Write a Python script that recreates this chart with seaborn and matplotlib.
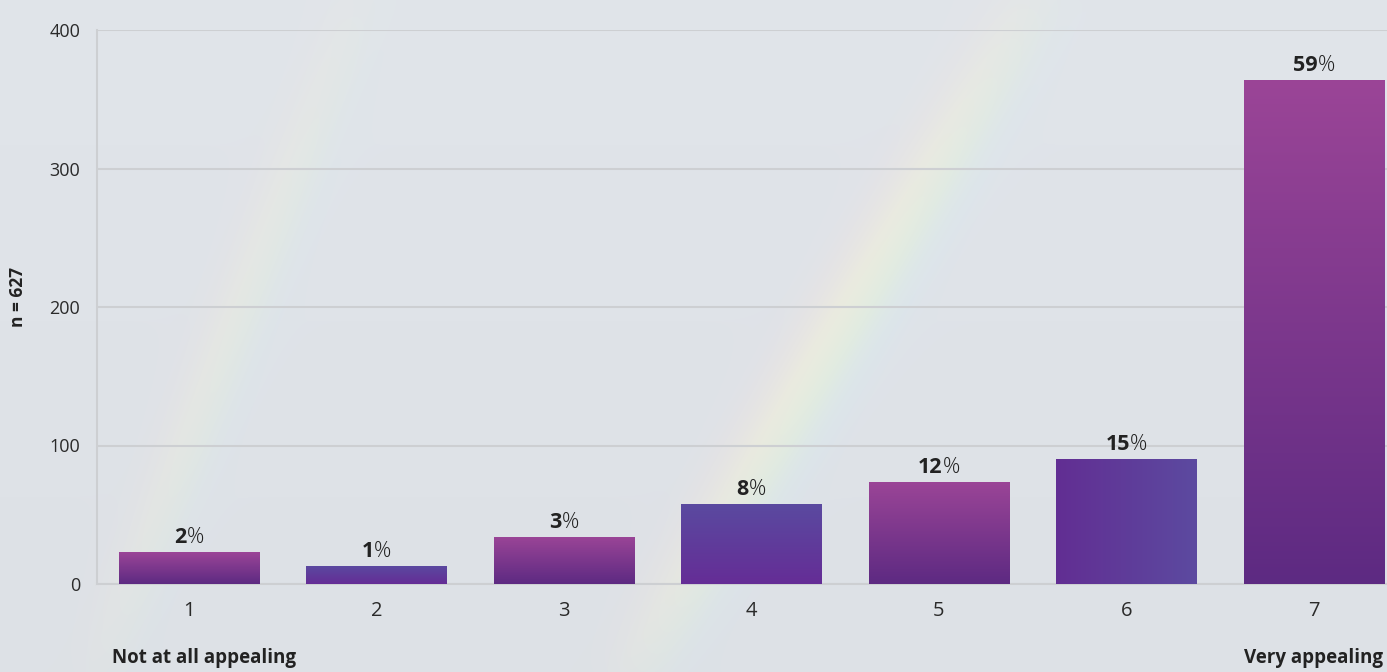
import numpy as np
import pandas as pd
import matplotlib
matplotlib.use("Agg")
import matplotlib.pyplot as plt
import seaborn as sns
from matplotlib.colors import LinearSegmentedColormap, to_rgb

categories = ["1", "2", "3", "4", "5", "6", "7"]
counts = [23, 13, 34, 58, 74, 90, 364]
percent_labels = ["2", "1", "3", "8", "12", "15", "59"]
y_ticks = [0, 100, 200, 300, 400]
left_label = "Not at all appealing"
right_label = "Very appealing"
n_label = "n = 627"

# style per bar: gradient (start colour, end colour, direction)
magenta = ("#9b4597", "#5d2a82", "v")
bluev = ("#5a4aa0", "#652d96", "v")
blueh = ("#622e93", "#5c4aa0", "h")
bar_styles = [magenta, bluev, magenta, bluev, magenta, blueh, magenta]

sns.set_theme(style="white")
plt.rcParams["font.family"] = ["Open Sans", "DejaVu Sans"]

W, H = 1387, 672
fig = plt.figure(figsize=(W / 100, H / 100), dpi=100)
bg_col = np.array(to_rgb("#dde1e6"))
fig.patch.set_facecolor("#dde1e6")

# background with faint rainbow streaks
bgax = fig.add_axes([0, 0, 1, 1], zorder=-5)
yy, xx = np.mgrid[0:H, 0:W].astype(float)
img = np.ones((H, W, 3)) * bg_col
img += (0.015 * (1 - yy / H))[..., None]
def streak(img, p0, p1, width, strength):
    p0 = np.array(p0, float); p1 = np.array(p1, float)
    d = p1 - p0; L = np.linalg.norm(d); d /= L
    nrm = np.array([d[1], -d[0]])
    rel_x = xx - p0[0]; rel_y = yy - p0[1]
    s = (rel_x * nrm[0] + rel_y * nrm[1]) / width
    t = (rel_x * d[0] + rel_y * d[1]) / L
    along = np.clip(np.sin(np.clip(t, 0, 1) * np.pi), 0, 1) ** 0.6
    env = np.exp(-(s ** 2) * 2.0) * along * strength
    cm = LinearSegmentedColormap.from_list(
        "rb", ["#dfe3f4", "#d3ecf4", "#e2f2dc", "#f4f1d8", "#f6e4dc", "#ece0ea"])
    cols = cm(np.clip((s + 1.3) / 2.6, 0, 1))[..., :3]
    return img * (1 - env[..., None]) + cols * env[..., None]
img = streak(img, (620, 700), (1050, -20), 60, 0.6)
img = streak(img, (90, 700), (370, -20), 50, 0.3)
img = np.clip(img, 0, 1)
bgax.imshow(img, aspect="auto", extent=(0, 1, 0, 1), origin="upper")
bgax.axis("off")

ax = fig.add_axes([97 / W, 1 - 584 / H, 1 - 97 / W, (584 - 30) / H])
ax.set_facecolor("none")
df = pd.DataFrame({"score": categories, "count": counts})
sns.barplot(data=df, x="score", y="count", ax=ax, width=0.75, color="#7a3590",
            saturation=1, zorder=3)

ax.set_xlim(-0.49, 6.39)
ax.set_ylim(0, 400)
ax.set_yticks(y_ticks)
ax.set_yticklabels([str(v) for v in y_ticks])
ax.grid(axis="y", color="#cdcfd2", linewidth=1.5, zorder=0)
ax.set_axisbelow(True)
for sp in ["top", "right"]:
    ax.spines[sp].set_visible(False)
for sp in ["left", "bottom"]:
    ax.spines[sp].set_color("#cdcfd2")
    ax.spines[sp].set_linewidth(1.5)
ax.tick_params(axis="both", length=0, colors="#2a2a2a")
ax.tick_params(axis="y", labelsize=13, pad=12)
ax.tick_params(axis="x", labelsize=14.5, pad=12)
ax.set_xlabel("")
ax.set_ylabel("")

# gradient fills clipped to bars
for patch, (c0, c1, direc) in zip(ax.patches, bar_styles):
    x0, y0 = patch.get_x(), patch.get_y()
    w, h = patch.get_width(), patch.get_height()
    cm = LinearSegmentedColormap.from_list("g", [c0, c1])
    if direc == "v":
        grad = np.repeat(np.linspace(0, 1, 256)[:, None], 2, axis=1)
    else:
        grad = np.repeat(np.linspace(0, 1, 256)[None, :], 2, axis=0)
    im = ax.imshow(grad, cmap=cm, aspect="auto", origin="upper",
                   extent=(x0, x0 + w, y0, y0 + h), zorder=3, interpolation="bilinear")
    im.set_clip_path(patch)
    patch.set_facecolor("none")
    patch.set_edgecolor("none")
ax.set_xlim(-0.49, 6.39)
ax.set_ylim(0, 400)

# value labels: bold number + regular %
fig.canvas.draw()
renderer = fig.canvas.get_renderer()
for patch, num in zip(ax.patches, percent_labels):
    xc = patch.get_x() + patch.get_width() / 2
    top = patch.get_height()
    t1 = ax.annotate(num, (xc, top), xytext=(0, 9), textcoords="offset pixels",
                     ha="left", va="baseline", fontsize=15.5, fontweight="bold",
                     color="#222222", zorder=5)
    t2 = ax.annotate("%", (xc, top), xytext=(0, 9), textcoords="offset pixels",
                     ha="left", va="baseline", fontsize=15.5, fontweight="light",
                     color="#222222", zorder=5)
    w1 = t1.get_window_extent(renderer).width
    w2 = t2.get_window_extent(renderer).width
    total = w1 + w2
    t1.set_position((-total / 2, 9))
    t2.set_position((-total / 2 + w1, 9))

fig.text(18 / W, 1 - 297 / H, n_label, rotation=90, ha="center", va="center",
         fontsize=12.5, fontweight="bold", color="#222222")
fig.text(112 / W, 1 - 658 / H, left_label, ha="left", va="center",
         fontsize=13.5, fontweight="bold", color="#222222")
fig.text(1383 / W, 1 - 658 / H, right_label, ha="right", va="center",
         fontsize=13.5, fontweight="bold", color="#222222")

fig.savefig("out.png", dpi=100, facecolor=fig.get_facecolor())
